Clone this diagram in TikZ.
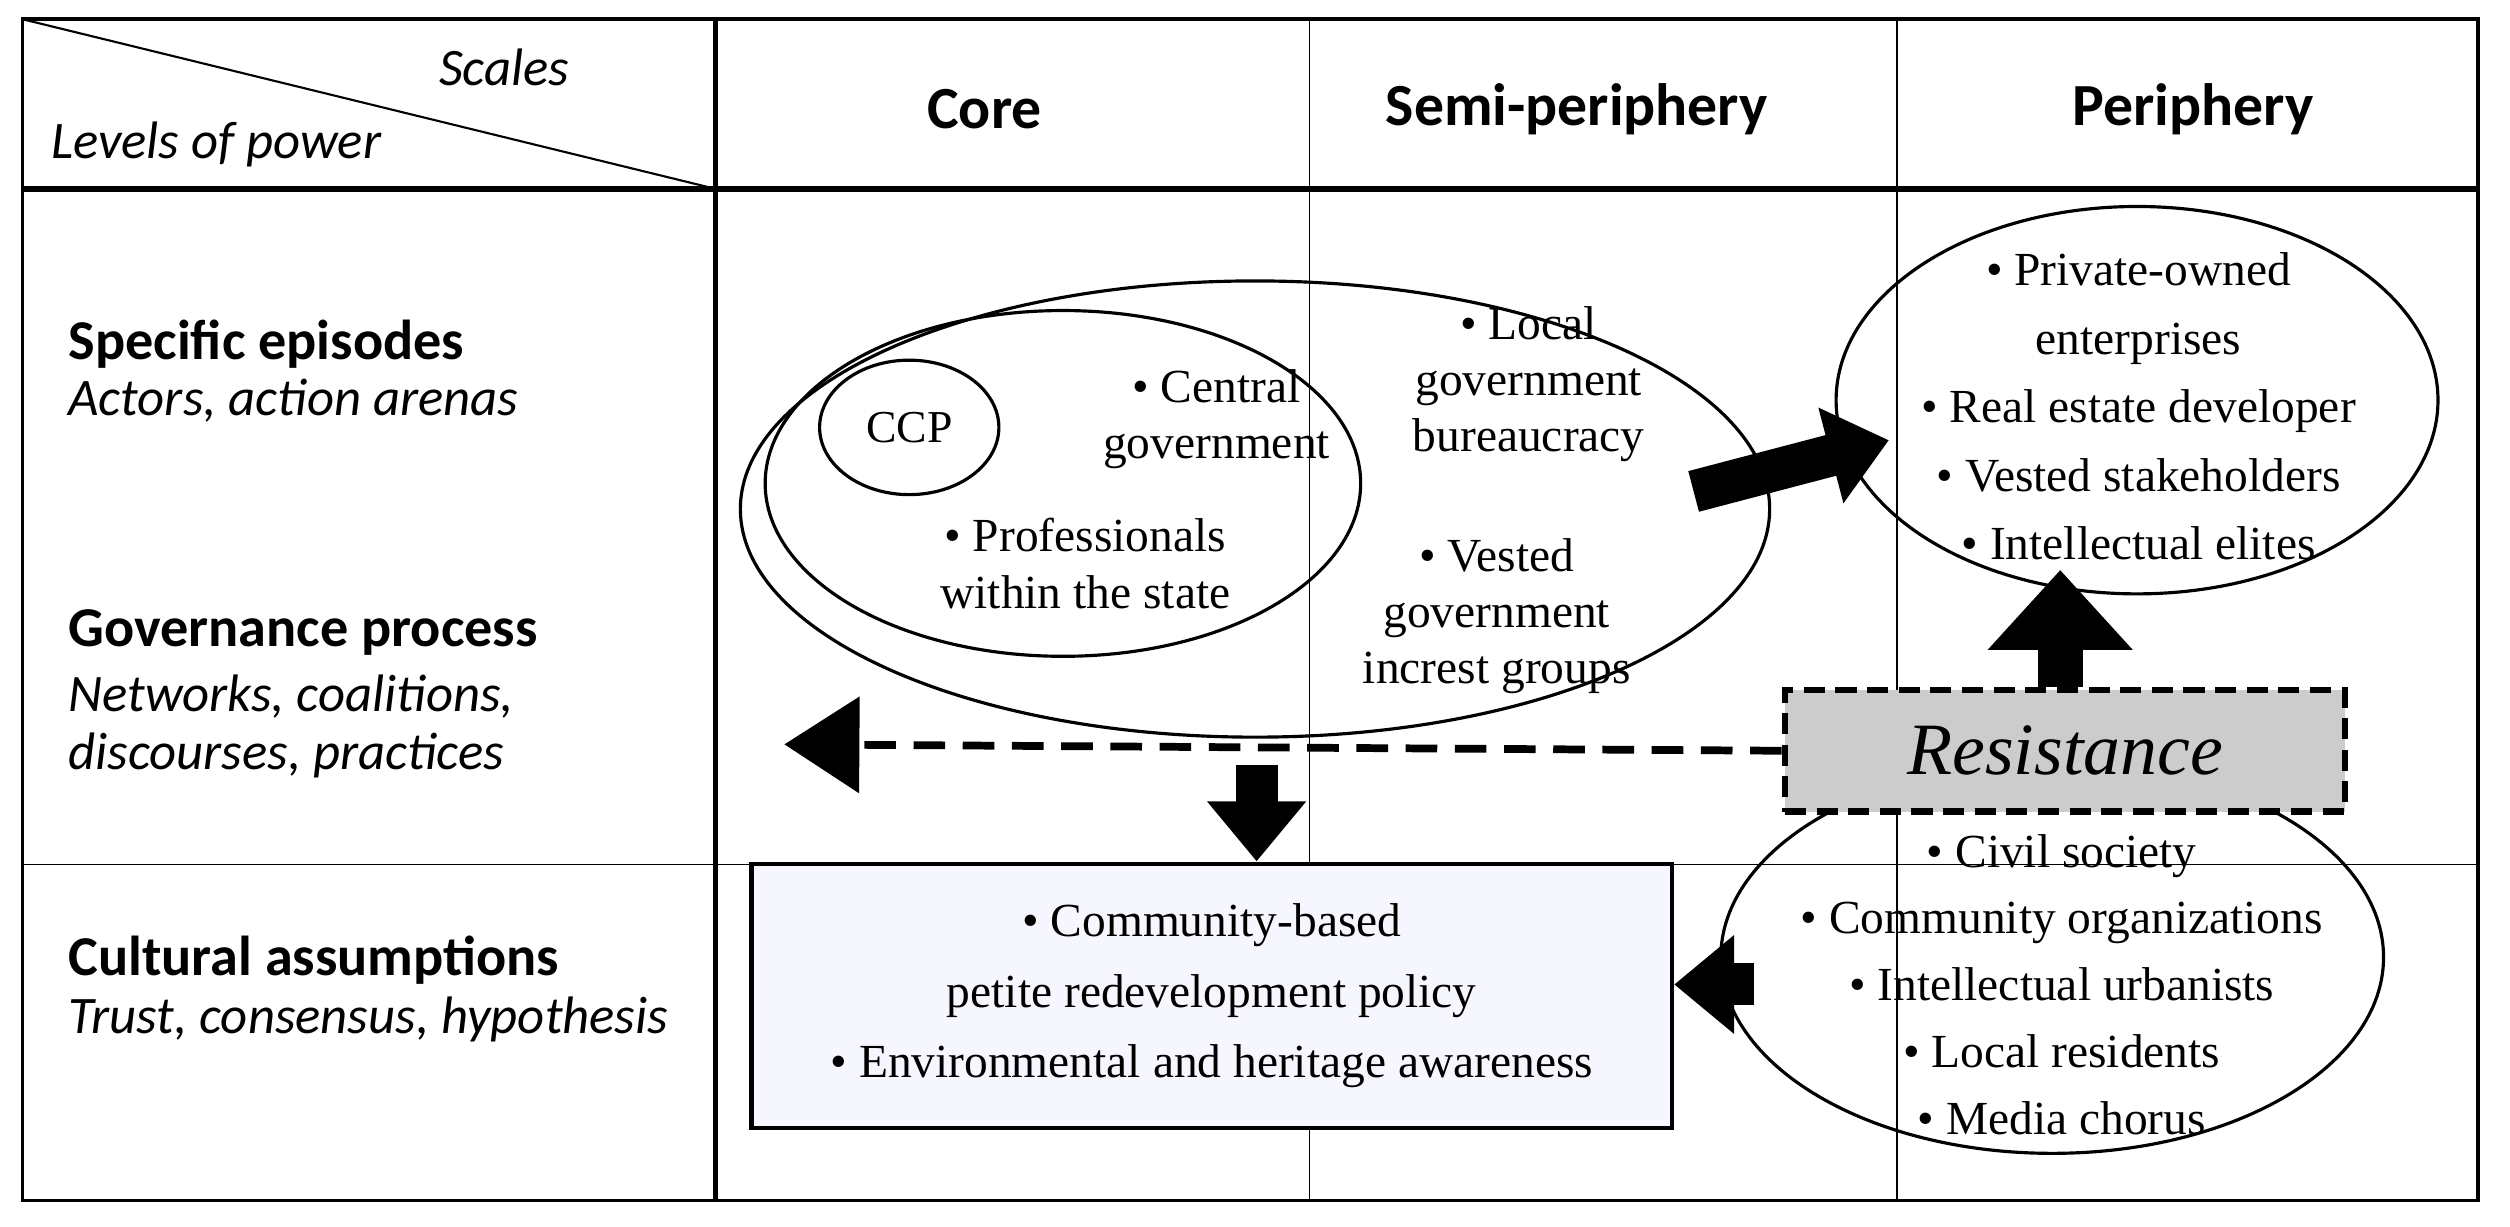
\documentclass[tikz,border=0pt]{standalone}
\usepackage{fontspec}
\setmainfont{Liberation Serif}
\newfontfamily\hdfont{Carlito}
\usetikzlibrary{shapes.geometric,arrows.meta}
\begin{document}
\begin{tikzpicture}[x=0.016cm,y=-0.016cm,
  hd/.style={font=\hdfont\bfseries\fontsize{17}{20}\selectfont},
  lvl/.style={font=\hdfont\bfseries\fontsize{16}{19}\selectfont},
  sub/.style={font=\hdfont\itshape\fontsize{15}{18}\selectfont},
  txt/.style={font=\fontsize{13.5}{16}\selectfont,align=center},
  oval/.style={draw,ellipse,line width=0.9pt,inner sep=0pt},
  blk/.style={line width=0.42cm,-{Triangle[width=0.95cm,length=0.6cm]}}]
\useasboundingbox (0,0) rectangle (1568,766);
% grid
\draw[line width=1pt] (14,12) rectangle (1548,750);
\draw[line width=1.6pt] (447,12) -- (447,750);
\draw[line width=1.6pt] (14,118) -- (1548,118);
\draw[line width=0.5pt] (818,12) -- (818,750) (1185,12) -- (1185,750) (14,540) -- (1548,540);
\draw[line width=0.6pt] (14,12) -- (447,118);
\node[sub] (scales) at (315,42) {Scales};
\node[sub] (lop) at (135,90) {Levels of power};
\node[hd] (core) at (615,68) {Core};
\node[hd] (semi) at (985,68) {Semi-periphery};
\node[hd] (peri) at (1370,68) {Periphery};
% levels
\node[lvl,anchor=west] (spec) at (35,215) {Specific episodes};
\node[sub,anchor=west] (spec2) at (35,250) {Actors, action arenas};
\node[lvl,anchor=west] (gov) at (35,395) {Governance process};
\node[sub,anchor=west] (gov2) at (35,435) {Networks, coalitions,};
\node[sub,anchor=west] (gov3) at (35,472) {discourses, practices};
\node[lvl,anchor=west] (cult) at (35,600) {Cultural assumptions};
\node[sub,anchor=west] (cult2) at (35,637) {Trust, consensus, hypothesis};
% ovals
\node[oval,minimum width=643*0.016cm,minimum height=285*0.016cm] (state) at (784,318) {};
\node[oval,minimum width=372*0.016cm,minimum height=216*0.016cm] (inner) at (664,302) {};
\node[oval,minimum width=112*0.016cm,minimum height=84*0.016cm] (ccp) at (568,267) {};
\node[font=\fontsize{13}{15}\selectfont] at (ccp) {CCP};
\node[txt] (cg) at (760,262) {\textbullet{} Central\\government};
\node[txt] (prof) at (678,352) {\textbullet{} Professionals\\within the state};
\node[txt] (lg) at (955,240) {\textbullet{} Local\\government\\bureaucracy};
\node[txt] (vg) at (935,385) {\textbullet{} Vested\\government\\increst groups};
\node[oval,minimum width=376*0.016cm,minimum height=242*0.016cm] (market) at (1335,250) {};
\node[txt,font=\fontsize{13.5}{19.5}\selectfont] at (1336,254) {\textbullet{} Private-owned\\enterprises\\\textbullet{} Real estate developer\\\textbullet{} Vested stakeholders\\\textbullet{} Intellectual elites};
\node[oval,minimum width=414*0.016cm,minimum height=245*0.016cm] (civil) at (1282,598) {};
\node[txt,font=\fontsize{13.5}{19}\selectfont] at (1288,615) {\textbullet{} Civil society\\\textbullet{} Community organizations\\\textbullet{} Intellectual urbanists\\\textbullet{} Local residents\\\textbullet{} Media chorus};
% policy box
\node[draw,line width=1.2pt,fill=gray!18!blue!4,minimum width=575*0.016cm,minimum height=165*0.016cm,txt,font=\fontsize{13.5}{20}\selectfont] (policy) at (757,622) {\textbullet{} Community-based\\petite redevelopment policy\\\textbullet{} Environmental and heritage awareness};
\node[draw,dashed,line width=1.8pt,dash pattern=on 6pt off 3pt,fill=gray!40,minimum width=350*0.016cm,minimum height=76*0.016cm,font=\itshape\fontsize{21}{24}\selectfont] (res) at (1290,469) {Resistance};
\coordinate (dend) at (490,465);
% arrows
\draw[line width=2.2pt,dash pattern=on 9pt off 5pt,-{Triangle[width=0.95cm,length=0.75cm]}] (res.west) -- (dend);
\draw[line width=0.45cm,-{Triangle[width=1.4cm,length=0.8cm]}] (res.north -| 1287,0) -- (1287,356);
\draw[blk] (785,478) -- (policy.north -| 785,0);
\draw[blk] (1058,307) -- (1180,275);
\draw[blk] (1096,615) -- (policy.east |- 0,615);
\end{tikzpicture}
\end{document}
